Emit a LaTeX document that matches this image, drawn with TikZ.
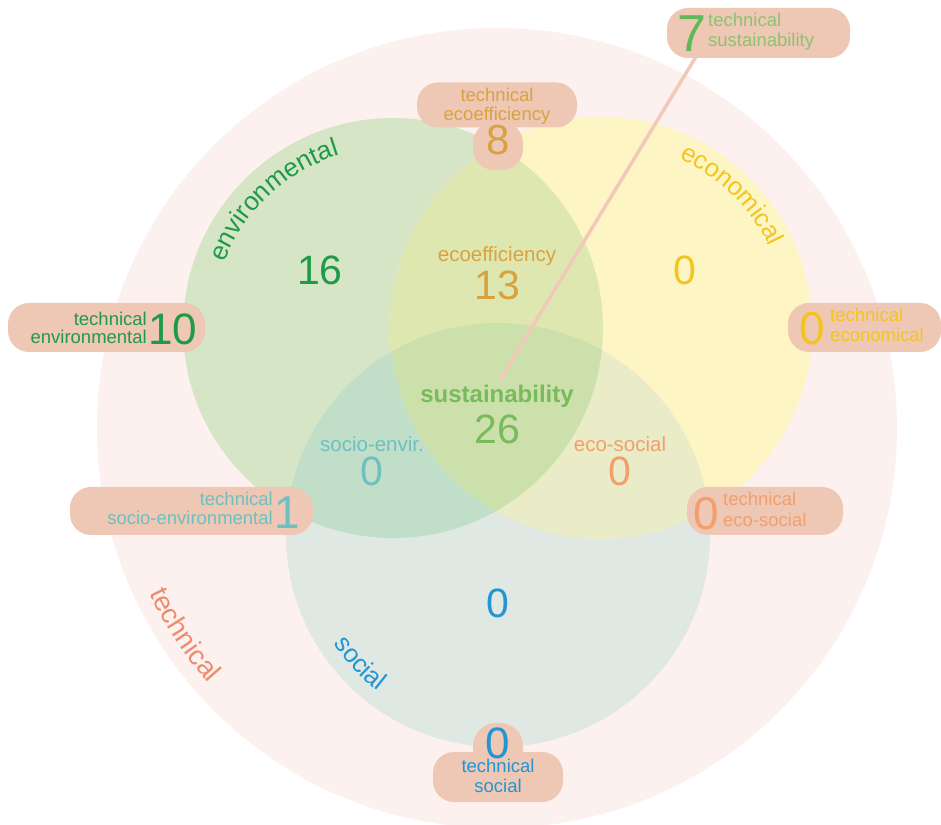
\documentclass[tikz,border=0pt]{standalone}
\usepackage{fontspec}
\setmainfont{Liberation Sans}
\usetikzlibrary{decorations.text}
\definecolor{outerc}{HTML}{FCF1EE}
\definecolor{gonly}{HTML}{D5E5C5}
\definecolor{yonly}{HTML}{FEF5C4}
\definecolor{bonly}{HTML}{E0E8E3}
\definecolor{gyc}{HTML}{DFE7B0}
\definecolor{gbc}{HTML}{C0DEC8}
\definecolor{ybc}{HTML}{E9ECC7}
\definecolor{gybc}{HTML}{CCE0AC}
\definecolor{pillc}{HTML}{EEC7B5}
\definecolor{linkc}{HTML}{F2C9B8}
\definecolor{cgreen}{HTML}{1F9A48}
\definecolor{cgold}{HTML}{D8A23E}
\definecolor{cyellow}{HTML}{F4C51F}
\definecolor{csust}{HTML}{78BB5C}
\definecolor{cseven}{HTML}{5DBA57}
\definecolor{csevent}{HTML}{8CC36E}
\definecolor{cteal}{HTML}{6CC1C0}
\definecolor{corange}{HTML}{F39F6C}
\definecolor{cblue}{HTML}{2196D3}
\definecolor{ctech}{HTML}{EE8B6E}
\begin{document}
\begin{tikzpicture}[x=1pt,y=1pt,
  pill/.style={fill=pillc, rounded corners=21pt, inner sep=0pt, draw=none},
  small/.style={font=\fontsize{18.5}{18.5}\selectfont, inner sep=0pt},
  midlbl/.style={font=\fontsize{20.5}{20.5}\selectfont, inner sep=0pt},
  cnum/.style={font=\fontsize{41}{41}\selectfont, inner sep=0pt},
  pnum/.style={font=\fontsize{46}{46}\selectfont, inner sep=0pt},
  link/.style={draw=linkc, line width=3.5pt},
  curved/.style={decorate, decoration={text along path, text align=center}},
]
\useasboundingbox (0,0) rectangle (941,824);
\clip (0,0) rectangle (941,824);
\fill[white] (0,0) rectangle (941,824);
\coordinate (O) at (497,396);
\coordinate (G) at (393,496);
\coordinate (Y) at (601,496);
\coordinate (B) at (498,289);
% circles
\fill[outerc] (O) circle[radius=400pt];
\fill[gonly] (G) circle[radius=210pt];
\fill[yonly] (Y) circle[radius=211pt];
\fill[bonly] (B) circle[radius=212pt];
\begin{scope}\clip (G) circle[radius=210pt]; \fill[gyc] (Y) circle[radius=211pt];\end{scope}
\begin{scope}\clip (G) circle[radius=210pt]; \fill[gbc] (B) circle[radius=212pt];\end{scope}
\begin{scope}\clip (Y) circle[radius=211pt]; \fill[ybc] (B) circle[radius=212pt];\end{scope}
\begin{scope}\clip (G) circle[radius=210pt]; \clip (Y) circle[radius=211pt]; \fill[gybc] (B) circle[radius=212pt];\end{scope}
% curved labels
\path[curved, decoration={text={|\fontsize{26}{26}\selectfont\color{cgreen}|environmental}}]
  (G) ++(170:181pt) arc[start angle=170, end angle=96, radius=181pt];
\path[curved, decoration={text={|\fontsize{25.5}{25.5}\selectfont\color{cyellow}|economical}}]
  (Y) ++(80:187pt) arc[start angle=80, end angle=11, radius=187pt];
\path[curved, decoration={text={|\fontsize{25.5}{25.5}\selectfont\color{cblue}|social}}]
  (B) ++(192:197pt) arc[start angle=192, end angle=254, radius=197pt];
\path[curved, decoration={text={|\fontsize{27.5}{27.5}\selectfont\color{ctech}|technical}}]
  (O) ++(192:385pt) arc[start angle=192, end angle=235, radius=385pt];
% link line
\coordinate (linkend) at (500,444);
\coordinate (linkstart) at (697,769);
\draw[link] (linkend) -- (linkstart);
% pills
\node[pill, minimum width=183pt, minimum height=50pt] (p7) at (758.5,791) {};
\node[pill, minimum width=160pt, minimum height=45pt] (p8) at (497,719) {};
\node[pill, minimum width=50pt, minimum height=48pt] (p8b) at (498,678) {};
\node[pill, minimum width=197pt, minimum height=49pt] (p10) at (106.5,496.5) {};
\node[pill, minimum width=153pt, minimum height=49pt] (pec) at (864.5,496.5) {};
\node[pill, minimum width=243pt, minimum height=48pt] (pse) at (191.5,313) {};
\node[pill, minimum width=156pt, minimum height=48pt] (pes) at (765,313) {};
\node[pill, minimum width=130pt, minimum height=50pt] (pso) at (498,47) {};
\node[pill, minimum width=50pt, minimum height=52pt, rounded corners=23pt] (psob) at (498,75) {};
% pill texts
\node[inner sep=0pt, font=\fontsize{52}{52}\selectfont, text=cseven] (n7) at (692,790) {7};
\node[small, text=csevent, anchor=base west] (t7a) at (708,797) {technical};
\node[small, text=csevent, anchor=base west] (t7b) at (708,777) {sustainability};
\node[small, text=cgold, anchor=base] (t8a) at (497,722) {technical};
\node[small, text=cgold, anchor=base] (t8b) at (497,703) {ecoefficiency};
\node[cnum, font=\fontsize{42}{42}\selectfont, text=cgold] (n8) at (498,684) {8};
\node[small, text=cgreen, anchor=base east] (t10a) at (147,498) {technical};
\node[small, text=cgreen, anchor=base east] (t10b) at (147,480) {environmental};
\node[pnum, font=\fontsize{44}{44}\selectfont, text=cgreen] (n10) at (173,495) {10};
\node[pnum, text=cyellow] (nec) at (812,495) {0};
\node[small, text=cyellow, anchor=base west] (teca) at (830,502) {technical};
\node[small, text=cyellow, anchor=base west] (tecb) at (830,482) {economical};
\node[small, text=cteal, anchor=base east] (tsea) at (273,318) {technical};
\node[small, text=cteal, anchor=base east] (tseb) at (273,299) {socio-environmental};
\node[pnum, text=cteal] (nse) at (287,311) {1};
\node[pnum, text=corange] (nes) at (706,310) {0};
\node[small, text=corange, anchor=base west] (tesa) at (723,318) {technical};
\node[small, text=corange, anchor=base west] (tesb) at (723,297) {eco-social};
\node[pnum, font=\fontsize{44}{44}\selectfont, text=cblue] (nso) at (498,81) {0};
\node[small, text=cblue, anchor=base] (tsoa) at (498,52) {technical};
\node[small, text=cblue, anchor=base] (tsob) at (498,32) {social};
% centre texts
\node[cnum, text=cgreen] (n16) at (320,554) {16};
\node[midlbl, text=cgold, anchor=base] (leco) at (497,562) {ecoefficiency};
\node[cnum, text=cgold] (n13) at (497,539) {13};
\node[cnum, text=cyellow] (ny) at (685,554) {0};
\node[inner sep=0pt, font=\fontsize{24}{24}\selectfont\bfseries, text=csust, anchor=base] (lsus) at (497,421) {sustainability};
\node[cnum, text=csust] (n26) at (497,395) {26};
\node[midlbl, text=cteal, anchor=base] (lse) at (372,372) {socio-envir.};
\node[cnum, text=cteal] (nse0) at (372,353) {0};
\node[midlbl, text=corange, anchor=base] (les) at (620,372) {eco-social};
\node[cnum, text=corange] (nes0) at (620,353) {0};
\node[cnum, text=cblue] (nb) at (498,221) {0};
\end{tikzpicture}
\end{document}
